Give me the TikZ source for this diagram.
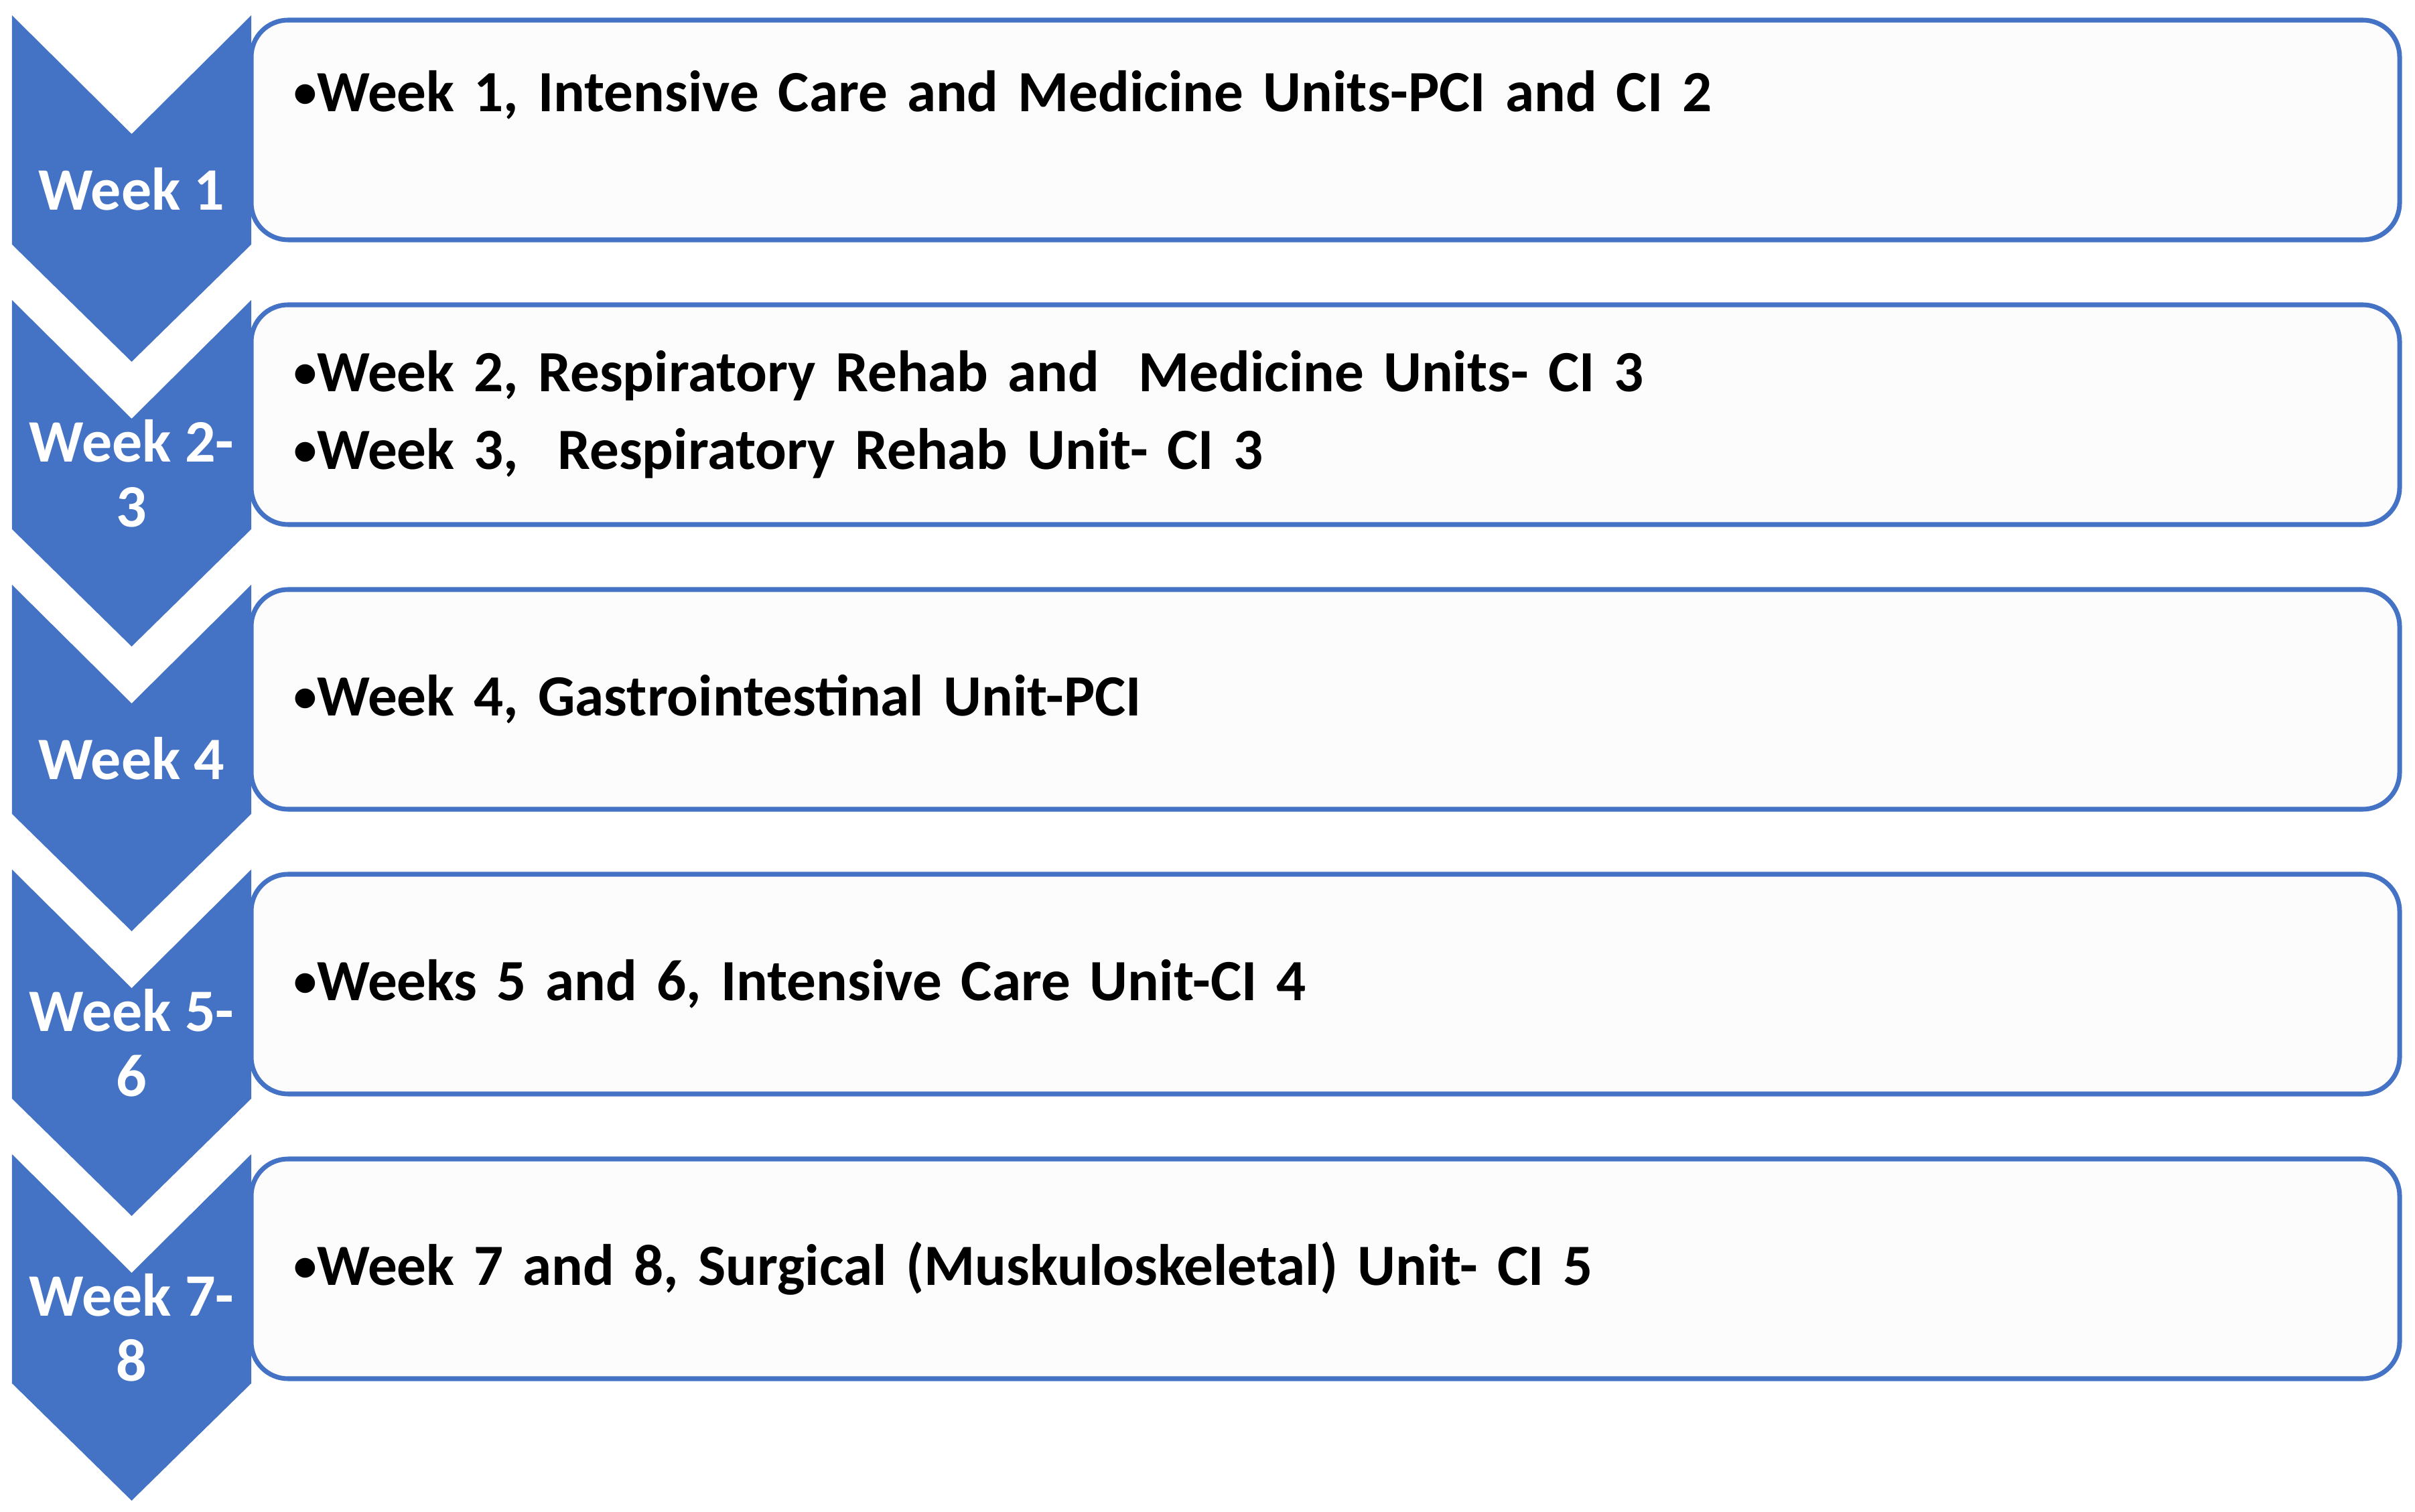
\documentclass[tikz,border=0pt]{standalone}
\usepackage{fontspec}
\setmainfont{Carlito}
\definecolor{chevblue}{HTML}{4472C4}
\definecolor{boxfill}{HTML}{FCFCFC}
\newcommand{\wkbullet}{\raisebox{0.07em}{\scalebox{0.8}{•}}}

\begin{document}
\begin{tikzpicture}[font=\bfseries\fontsize{24.8}{33}\selectfont]
\begin{scope}[weekbox/.style={draw=chevblue,line width=2pt,fill=boxfill,rounded corners=0.55cm,minimum width=32.07cm,minimum height=3.28cm,text width=30.8cm,inner xsep=0.6cm,align=left},
  weeklabel/.style={text=white,align=center,font=\bfseries\fontsize{25.6}{27.6}\selectfont}]

\useasboundingbox (0,0) rectangle (36.05,22.56);

\node[weekbox] (b1) at (19.785,20.62) {\wkbullet Week 1, Intensive Care and Medicine Units-PCI and CI 2\\ \mbox{}};
\node[weekbox] (b2) at (19.785,16.37) {\wkbullet Week 2, Respiratory Rehab and~ Medicine Units- CI 3\\\wkbullet Week 3,~ Respiratory Rehab Unit- CI 3};
\node[weekbox] (b3) at (19.785,12.12) {\wkbullet Week 4, Gastrointestinal Unit-PCI};
\node[weekbox] (b4) at (19.785,7.87) {\wkbullet Weeks 5 and 6, Intensive Care Unit-CI 4};
\node[weekbox] (b5) at (19.785,3.62) {\wkbullet Week 7 and 8, Surgical (Muskuloskeletal) Unit- CI 5};

% chevrons
\fill[chevblue] (0.18,22.33) -- (1.965,20.56) -- (3.75,22.33) -- (3.75,18.91) -- (1.965,17.16) -- (0.18,18.91) -- cycle;
\fill[chevblue] (0.18,18.08) -- (1.965,16.31) -- (3.75,18.08) -- (3.75,14.66) -- (1.965,12.91) -- (0.18,14.66) -- cycle;
\fill[chevblue] (0.18,13.83) -- (1.965,12.06) -- (3.75,13.83) -- (3.75,10.41) -- (1.965,8.66) -- (0.18,10.41) -- cycle;
\fill[chevblue] (0.18,9.58) -- (1.965,7.81) -- (3.75,9.58) -- (3.75,6.16) -- (1.965,4.41) -- (0.18,6.16) -- cycle;
\fill[chevblue] (0.18,5.33) -- (1.965,3.56) -- (3.75,5.33) -- (3.75,1.91) -- (1.965,0.16) -- (0.18,1.91) -- cycle;

\node[weeklabel] (w1) at (1.965,19.74) {Week 1};
\node[weeklabel] (w2) at (1.965,15.49) {Week 2-\\3};
\node[weeklabel] (w3) at (1.965,11.24) {Week 4};
\node[weeklabel] (w4) at (1.965,6.99) {Week 5-\\6};
\node[weeklabel] (w5) at (1.965,2.74) {Week 7-\\8};

\end{scope}
\end{tikzpicture}
\end{document}
